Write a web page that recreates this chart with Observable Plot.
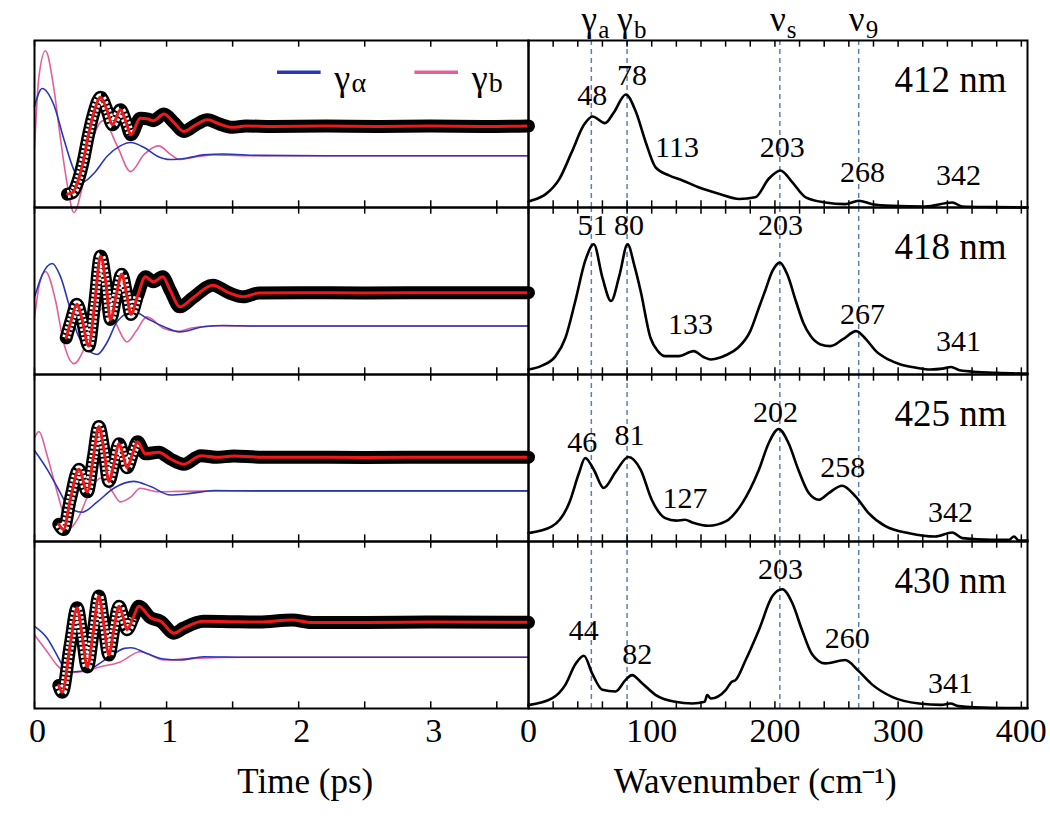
<!DOCTYPE html>
<html><head><meta charset="utf-8">
<script src="https://cdn.jsdelivr.net/npm/d3@7"></script>
<script src="https://cdn.jsdelivr.net/npm/@observablehq/plot@0.6"></script>
<style>
body{margin:0;background:#fff;}
#fig{position:relative;width:1050px;height:825px;overflow:hidden;background:#fff;}
#left{position:absolute;left:0;top:0;}
#right{position:absolute;left:526px;top:0;}
#fig svg, #fig svg text{font-family:"Liberation Serif",Tinos,"Nimbus Roman","FreeSerif","DejaVu Serif",serif !important;}
</style></head><body><div id="fig"><div id="left"></div><div id="right"></div></div>
<script>
// ---------- categories & ticks ----------
const panels = ["412 nm", "418 nm", "425 nm", "430 nm"];
const timeTicks = [0, 0.5, 1, 1.5, 2, 2.5, 3, 3.5];
const timeLabels = [0, 1, 2, 3];
const waveTicks = [0,20,40,60,80,100,120,140,160,180,200,220,240,260,280,300,320,340,360,380,400];
const waveLabels = [0, 100, 200, 300, 400];
const modeNames = ["γ", "γ", "ν", "ν"];
const modeSubs = ["a", "b", "s", "9"];
const modeWave = [51, 80, 204, 268];
const legendNames = ["γ", "γ"];
const legendSubs = ["α", "b"];

// ---------- time-domain traces [t (ps), signal (a.u.)] ----------
const data412 = [[0.25,8],[0.29,9],[0.33,16],[0.37,28],[0.41,44],[0.45,57],[0.5,66],[0.55,58],[0.59,49.5],[0.65,58.5],[0.69,52],[0.73,43.5],[0.8,53.5],[0.86,53],[0.9,52],[0.98,56],[1.06,50.5],[1.13,45.5],[1.22,49.5],[1.31,52.5],[1.4,50],[1.5,48],[1.6,48.8],[1.8,48.5],[2.2,48.8],[2.6,48.5],[3.0,48.8],[3.4,48.5],[3.74,48.8]];
const data418 = [[0.24,22],[0.28,33],[0.32,42],[0.36,33],[0.41,17],[0.455,42],[0.5,71],[0.54,55],[0.575,33],[0.62,48],[0.66,60],[0.7,47],[0.73,36],[0.78,47],[0.84,58.5],[0.9,55.5],[0.97,58.5],[1.03,50],[1.1,40.5],[1.2,46],[1.35,53.5],[1.47,49],[1.58,46.5],[1.7,48.8],[2.0,49],[2.5,48.8],[3.0,49],[3.74,49]];
const data425 = [[0.184,10.3],[0.22,7.2],[0.27,24.7],[0.336,43.2],[0.4,29.8],[0.445,50],[0.487,68.9],[0.525,55],[0.563,36],[0.6,46],[0.64,58.6],[0.67,52],[0.7,44.2],[0.74,52],[0.78,59.7],[0.84,52.5],[0.94,53.5],[1.03,49.4],[1.13,46.3],[1.26,51.4],[1.38,50.4],[1.51,51.2],[1.7,50.5],[2.0,50.5],[2.5,50.3],[3.0,50.5],[3.74,50.5]];
const data430 = [[0.184,13.8],[0.21,9.7],[0.27,38],[0.323,60.3],[0.36,44],[0.4,24.9],[0.445,46],[0.487,67.4],[0.525,50],[0.563,32],[0.6,47],[0.64,61.3],[0.67,55],[0.7,47.2],[0.745,54],[0.79,61.3],[0.88,54.3],[0.955,52.2],[1.056,45.1],[1.13,48.2],[1.28,52.2],[1.48,52],[1.7,51.8],[1.95,53],[2.1,51.5],[2.5,51.5],[3.0,51.8],[3.74,51.6]];

const gammaA412 = [[0,60.5],[0.058,71.3],[0.146,61.5],[0.222,41],[0.298,22.5],[0.36,15],[0.45,20.5],[0.55,30.7],[0.65,36.9],[0.727,38.9],[0.83,35.9],[0.93,30.7],[1.03,28.7],[1.16,29.7],[1.28,31.5],[1.43,32],[1.7,31.2],[2.2,31],[3.0,31],[3.74,31]];
const gammaA418 = [[0,46.2],[0.06,60],[0.134,66.5],[0.197,58.6],[0.26,42],[0.32,25.5],[0.4,15.1],[0.475,12],[0.55,19.3],[0.626,31.7],[0.75,37.9],[0.85,33.7],[0.98,28.6],[1.1,25.5],[1.28,28.6],[1.43,29.3],[1.7,29],[3.74,29]];
const gammaA425 = [[0,54.5],[0.096,43.2],[0.17,32.9],[0.235,23.7],[0.3,18.5],[0.36,17.5],[0.475,23.7],[0.6,31.9],[0.75,36],[0.88,32.9],[1.03,27.8],[1.18,28.8],[1.36,30.5],[1.7,30.3],[3.74,30.3]];
const gammaA430 = [[0,49.2],[0.096,42.1],[0.17,32],[0.22,25],[0.3,22],[0.4,23],[0.55,30],[0.68,36],[0.73,36.4],[0.85,33],[0.98,29.6],[1.1,29],[1.28,31],[1.6,30.7],[3.74,30.7]];

const gammaB412 = [[0,35],[0.033,78],[0.083,93.9],[0.146,71.7],[0.197,41],[0.247,14.3],[0.298,-3],[0.374,16.4],[0.45,43],[0.52,52],[0.626,36.9],[0.727,21.5],[0.83,31.8],[0.94,36.9],[1.03,31.8],[1.1,28.7],[1.2,30],[1.35,31.5],[1.6,31],[3.74,31]];
const gammaB418 = [[0,33.7],[0.04,55],[0.083,61.7],[0.16,44],[0.22,19.3],[0.3,6.5],[0.374,15.1],[0.45,32],[0.52,40],[0.6,33],[0.7,19.5],[0.77,26],[0.85,34.5],[0.98,27.5],[1.08,25.8],[1.2,28],[1.4,29.2],[1.7,29],[3.74,29]];
const gammaB425 = [[0,62],[0.033,65.8],[0.096,51.4],[0.16,32.9],[0.22,16.5],[0.27,8.2],[0.33,14],[0.42,30],[0.5,38],[0.58,31],[0.65,23.7],[0.73,26.7],[0.8,31.9],[0.93,29.8],[1.1,30],[1.5,30.3],[3.74,30.3]];
const gammaB430 = [[0,44],[0.096,34],[0.17,26],[0.25,21.5],[0.35,22],[0.5,25],[0.65,27.9],[0.8,34],[0.98,29],[1.2,30],[1.6,30.7],[3.74,30.7]];

// ---------- spectra [wavenumber (cm-1), amplitude (a.u.)] ----------
const spec412 = [[0,3.5],[2,4],[14,8],[25,17],[35,33],[45,49.5],[52,54.5],[62,50.5],[69,56.6],[79,67.7],[87,57.6],[95,39.4],[103,24.2],[114,19.2],[125,16.2],[138,12.1],[155,8.1],[171,5.1],[184,6.1],[195,17.2],[204.5,22.2],[214,15.2],[225,6.1],[241,3],[257,2],[268,4],[279,2],[295,1],[322,0.6],[344,3],[352,0.6],[376,0.2],[405,0]];
const spec418 = [[0,3],[10,5],[22,11],[30,22],[38,44],[46,68],[53,78],[60,58],[67,44],[74,60],[80.4,78],[86,65],[91,50],[99,22],[105,14],[111,11],[122,11],[134,14],[142,10.5],[148,9],[155,10],[160,11.5],[170,16],[180,26],[187,40],[192,50],[198,62],[204,67],[210,60],[217,44],[223,31],[229,23],[237,18],[245,17],[255,21],[266,26],[274,21],[282,14],[292,9],[302,6],[315,4],[326,3],[336,3.5],[343,4.5],[350,2.5],[365,1.5],[380,1],[405,0.5]];
const spec425 = [[0,5],[19,9],[33,23],[41,41],[46,50],[53,43],[61,32],[71,42],[81,50.6],[91,43],[100,25],[111,14],[120,12.5],[127,13],[133,11.4],[146,9.4],[160,12],[173.5,23],[187,43],[195,59],[203,67.4],[211,59],[219,43],[227.5,29],[235.6,25],[243.7,29],[254.6,33.4],[265.4,27],[276,17],[290,9],[309,5],[330,3],[344,5.4],[352,2],[376,1],[390,1],[394,3],[398,0.6],[405,0.5]];
const spec430 = [[0,2],[19,6],[30,14.3],[38,26.5],[45,31.6],[52,20.4],[60,11.2],[70.6,10.2],[79,17.3],[84,20],[92,15.3],[103,8.2],[119,4],[133,3],[143,4],[145,8],[148,6],[160,11],[165,16],[168,17],[176,28.6],[187,47],[198,67.3],[206,71.4],[214,63.3],[222,47],[230,32.7],[241,27],[257,29],[268,22.4],[279,14.3],[295,7],[317,3],[335,2.2],[342.5,3],[349,1.4],[376,0.4],[405,0.3]];

// ---------- peak annotations [label, cm-1, a.u.] ----------
const peaks412 = [[48,51.7,67],[78,84,79],[113,120.5,36],[203,206,36],[268,271,21],[342,349,19]];
const peaks418 = [[51,52,89],[80,81.5,89],[133,131.5,30],[203,204.5,89],[267,271,36],[341,349,20]];
const peaks425 = [[46,43.6,59.5],[81,82,63.5],[127,127,25.6],[202,200.5,77.4],[258,255,44.5],[342,342.5,17.6]];
const peaks430 = [[44,44.9,46.7],[82,88.2,32.7],[203,204.5,83],[260,258.7,41.7],[341,342.5,14.8]];

// ---------- build long tables ----------
const long = (arrs) => arrs.flatMap((arr, i) => arr.map(([x, v]) => ({panel: panels[i], x, v})));
const dataL = long([data412, data418, data425, data430]);
const gaL = long([gammaA412, gammaA418, gammaA425, gammaA430]);
const gbL = long([gammaB412, gammaB418, gammaB425, gammaB430]);
const specL = long([spec412, spec418, spec425, spec430]);
const peakL = [peaks412, peaks418, peaks425, peaks430].flatMap((arr, i) => arr.map(([label, x, v]) => ({panel: panels[i], label: String(label), x, v})));
const legendItems = legendNames.map((n, i) => ({name: n, sub: legendSubs[i], i}));
const modeItems = modeNames.map((n, i) => ({name: n, sub: modeSubs[i], x: modeWave[i]}));

const blue = "#2a36b8", pink = "#e0609c", red = "#f01818", dashCol = "#5b7fb5";
const font = "Liberation Serif, Tinos, Nimbus Roman, FreeSerif, DejaVu Serif, serif";
const curve = "monotone-x";
const common = {
  height: 825, marginTop: 40, marginBottom: 117,
  y: {domain: [0, 100], axis: null},
  fy: {domain: panels, padding: 0, axis: null},
  style: {background: "transparent", overflow: "visible", color: "black"}
};
const lastPanel = () => panels[3];
const firstPanel = () => panels[0];
const T = (data, opts) => Plot.text(data, {fontFamily: font, fill: "black", ...opts});

// ---------- left: time domain ----------
const legendX1 = [1.84, 2.88];
const left = Plot.plot({
  ...common,
  width: 530, marginLeft: 34, marginRight: 2,
  x: {domain: [0, 3.74], axis: null},
  marks: [
    Plot.line(gbL, {x: "x", y: "v", fy: "panel", stroke: pink, strokeWidth: 1.6, curve}),
    Plot.line(gaL, {x: "x", y: "v", fy: "panel", stroke: blue, strokeWidth: 1.6, curve}),
    Plot.line(dataL, {x: "x", y: "v", fy: "panel", stroke: "black", strokeWidth: 13, curve}),
    Plot.line(dataL, {filter: d => d.x <= 0.78, x: "x", y: "v", fy: "panel", stroke: "white", strokeWidth: 8, strokeDasharray: "2.5,1.8", strokeLinecap: "butt", curve}),
    Plot.line(dataL, {x: "x", y: "v", fy: "panel", stroke: red, strokeWidth: 3, curve}),
    Plot.ruleX(timeTicks, {x: d => d, y1: 0, y2: 4, stroke: "black", strokeWidth: 1.5}),
    Plot.ruleX(timeTicks, {x: d => d, y1: 96, y2: 100, stroke: "black", strokeWidth: 1.5}),
    Plot.frame({stroke: "black", strokeWidth: 2}),
    // legend
    Plot.ruleY(legendItems, {y: () => 81, x1: d => legendX1[d.i], x2: d => legendX1[d.i] + 0.33, fy: firstPanel, stroke: d => d.i === 0 ? blue : pink, strokeWidth: 3.5}),
    T(legendItems, {x: d => legendX1[d.i] + 0.43, y: () => 81, fy: firstPanel, text: "name", textAnchor: "start", fontSize: 36, dy: 6}),
    T(legendItems, {x: d => legendX1[d.i] + 0.56, y: () => 81, fy: firstPanel, text: "sub", textAnchor: "start", fontSize: 28, dy: 11}),
    // axis labels
    T(timeLabels, {x: d => d, fy: lastPanel, frameAnchor: "bottom", text: d => String(d), fontSize: 34, dx: 3, dy: 33}),
    T(["Time (ps)"], {x: () => 2.05, fy: lastPanel, frameAnchor: "bottom", text: d => d, fontSize: 35, dy: 84})
  ]
});
document.getElementById("left").append(left);

// ---------- right: spectra ----------
const right = Plot.plot({
  ...common,
  width: 524, marginLeft: 2, marginRight: 23,
  x: {domain: [0, 405], axis: null},
  marks: [
    Plot.ruleX(modeWave, {x: d => d, stroke: dashCol, strokeWidth: 1.5, strokeDasharray: "5,4"}),
    Plot.line(specL, {x: "x", y: "v", fy: "panel", stroke: "black", strokeWidth: 2.6, curve}),
    Plot.ruleX(waveTicks, {x: d => d, y1: 0, y2: 4, stroke: "black", strokeWidth: 1.5}),
    Plot.ruleX(waveTicks, {x: d => d, y1: 96, y2: 100, stroke: "black", strokeWidth: 1.5}),
    Plot.frame({stroke: "black", strokeWidth: 2}),
    T(peakL, {x: "x", y: "v", fy: "panel", text: "label", fontSize: 30}),
    T(panels, {x: () => 342.5, y: () => 76, fy: d => d, text: d => d, fontSize: 37}),
    // mode labels above
    T(modeItems, {x: "x", y: () => 100, fy: firstPanel, text: "name", fontSize: 35, dx: -2, dy: -21}),
    T(modeItems, {x: "x", y: () => 100, fy: firstPanel, text: "sub", fontSize: 25, textAnchor: "start", dx: 7, dy: -11}),
    // axis labels
    T(waveLabels, {x: d => d, fy: lastPanel, frameAnchor: "bottom", text: d => String(d), fontSize: 34, dy: 33}),
    T(["Wavenumber (cm⁻¹)"], {x: () => 184, fy: lastPanel, frameAnchor: "bottom", text: d => d, fontSize: 35, dy: 84})
  ]
});
document.getElementById("right").append(right);
</script></body></html>
